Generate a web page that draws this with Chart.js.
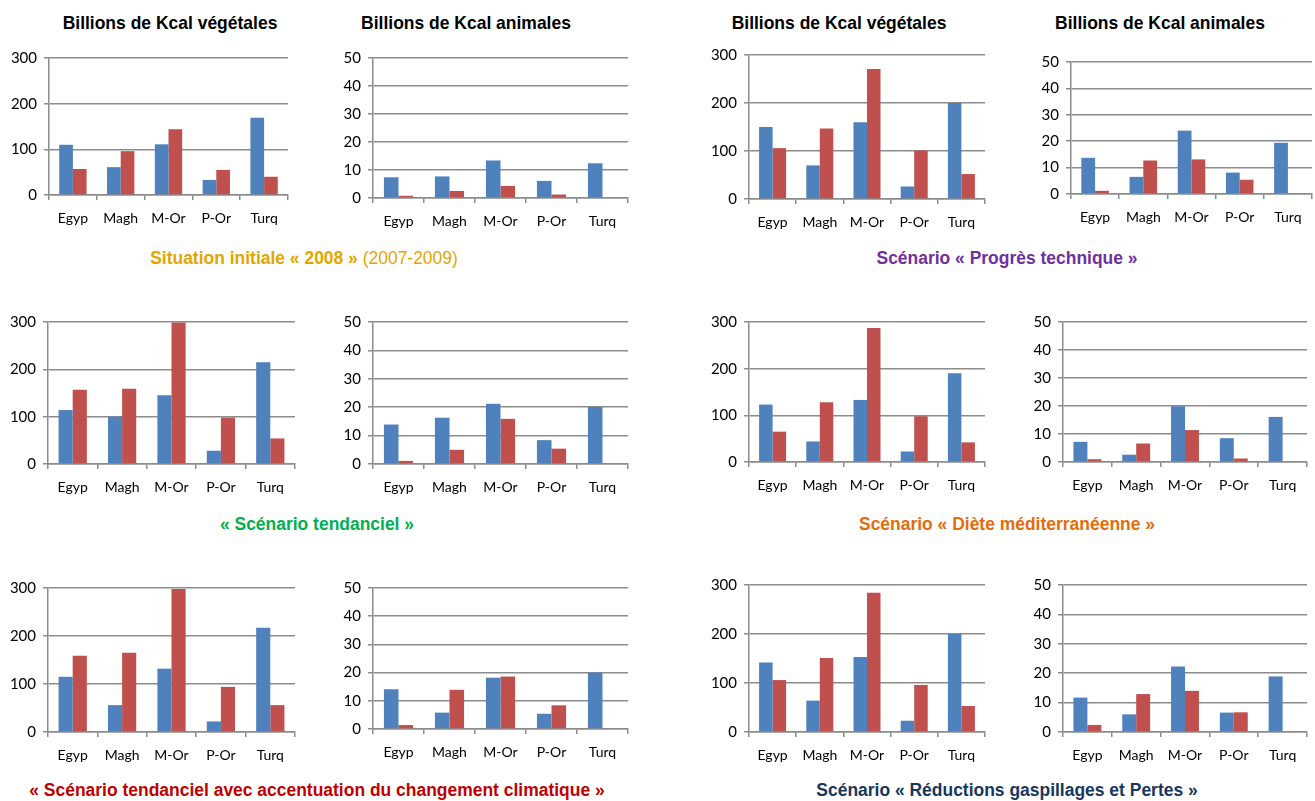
<!DOCTYPE html>
<html>
<head>
<meta charset="utf-8">
<script src="https://cdn.jsdelivr.net/npm/chart.js@4.4.1/dist/chart.umd.min.js"></script>
<style>
  html, body { margin: 0; padding: 0; background: #fff; }
  #page { position: relative; width: 1315px; height: 801px; overflow: hidden; }
  .box { position: absolute; }
  .txt { position: absolute; white-space: nowrap;
         font-family: "Liberation Sans Narrow", "Arial Narrow", "Liberation Sans", sans-serif;
         font-weight: bold; }
  .title { font-size: 19px; color: #000; transform: translateX(-50%) scaleX(0.92); }
  .cap { font-size: 18px; transform: translateX(-50%) scaleX(0.97); }
  .light { font-weight: normal; }
</style>
</head>
<body>
<div id="page"></div>
<script>
// categories and tick labels
const categories = ['Egyp', 'Magh', 'M-Or', 'P-Or', 'Turq'];
const vegTicks = [0, 100, 200, 300];
const animTicks = [0, 10, 20, 30, 40, 50];

// Situation initiale 2008
const vegInitialBlue = [110, 61, 111, 33, 169];
const vegInitialRed = [57, 96, 144, 55, 40];
const animInitialBlue = [7.4, 7.7, 13.4, 6.1, 12.4];
const animInitialRed = [0.8, 2.5, 4.3, 1.25, 0];

// Progrès technique
const vegProgresBlue = [150, 70, 160, 26, 200];
const vegProgresRed = [106, 147, 271, 101, 52];
const animProgresBlue = [13.7, 6.5, 24, 8.1, 19.4];
const animProgresRed = [1.2, 12.7, 13.1, 5.4, 0];

// Scénario tendanciel
const vegTendBlue = [114, 100, 145, 28, 215];
const vegTendRed = [157, 159, 299, 98, 54];
const animTendBlue = [13.9, 16.3, 21.2, 8.4, 20.1];
const animTendRed = [1.1, 5, 15.9, 5.4, 0];

// Diète méditerranéenne
const vegDieteBlue = [123, 44, 133, 22.5, 190];
const vegDieteRed = [65, 128, 287, 98, 42];
const animDieteBlue = [7.2, 2.6, 19.9, 8.5, 16.1];
const animDieteRed = [1.0, 6.6, 11.4, 1.25, 0];

// Tendanciel + changement climatique
const vegClimatBlue = [115, 56, 132, 22, 217];
const vegClimatRed = [159, 165, 298, 94, 56];
const animClimatBlue = [14.1, 5.8, 18.2, 5.4, 20.0];
const animClimatRed = [1.4, 13.9, 18.6, 8.4, 0];

// Réductions gaspillages et pertes
const vegReducBlue = [142, 64, 153, 23, 200];
const vegReducRed = [106, 151, 284, 96, 53];
const animReducBlue = [11.7, 6.0, 22.3, 6.6, 18.9];
const animReducRed = [2.4, 12.9, 14.0, 6.7, 0];

const BLUE = '#4F81BD';
const RED = '#C0504D';
const GRID = '#8c8c8c';
const YW = 46;      // y axis width
const XH = 34;      // x axis height
const PADT = 10;

// plot frames: axis x, right x, top y (max), zero y
const panels = [
  { ax: 49,   right: 288,  top: 52,  zero: 195, ticks: vegTicks,  blue: vegInitialBlue,  red: vegInitialRed },
  { ax: 373,  right: 628,  top: 52,  zero: 198, ticks: animTicks, blue: animInitialBlue, red: animInitialRed },
  { ax: 749,  right: 985,  top: 49,  zero: 199, ticks: vegTicks,  blue: vegProgresBlue,  red: vegProgresRed },
  { ax: 1071, right: 1312, top: 56,  zero: 194, ticks: animTicks, blue: animProgresBlue, red: animProgresRed },
  { ax: 48,   right: 295,  top: 316, zero: 464, ticks: vegTicks,  blue: vegTendBlue,     red: vegTendRed },
  { ax: 373,  right: 628,  top: 316, zero: 464, ticks: animTicks, blue: animTendBlue,    red: animTendRed },
  { ax: 749,  right: 985,  top: 316, zero: 462, ticks: vegTicks,  blue: vegDieteBlue,    red: vegDieteRed },
  { ax: 1063, right: 1307, top: 316, zero: 462, ticks: animTicks, blue: animDieteBlue,   red: animDieteRed },
  { ax: 48,   right: 295,  top: 582, zero: 732, ticks: vegTicks,  blue: vegClimatBlue,   red: vegClimatRed },
  { ax: 373,  right: 628,  top: 582, zero: 729, ticks: animTicks, blue: animClimatBlue,  red: animClimatRed },
  { ax: 749,  right: 985,  top: 579, zero: 732, ticks: vegTicks,  blue: vegReducBlue,    red: vegReducRed },
  { ax: 1063, right: 1307, top: 579, zero: 732, ticks: animTicks, blue: animReducBlue,   red: animReducRed }
];

const texts = [
  { x: 170,  y: 12, cls: 'title', html: 'Billions de Kcal végétales' },
  { x: 466,  y: 12, cls: 'title', html: 'Billions de Kcal animales' },
  { x: 839,  y: 12, cls: 'title', html: 'Billions de Kcal végétales' },
  { x: 1160, y: 12, cls: 'title', html: 'Billions de Kcal animales' },
  { x: 304,  y: 248, cls: 'cap', color: '#E3A600', html: 'Situation initiale « 2008 »<span class="light"> (2007-2009)</span>' },
  { x: 1007, y: 248, cls: 'cap', color: '#7030A0', html: 'Scénario « Progrès technique »' },
  { x: 317,  y: 514, cls: 'cap', color: '#00B050', html: '« Scénario tendanciel »' },
  { x: 1007, y: 514, cls: 'cap', color: '#E46C0A', html: 'Scénario « Diète méditerranéenne »' },
  { x: 317,  y: 780, cls: 'cap', color: '#C00000', html: '« Scénario tendanciel avec accentuation du changement climatique »' },
  { x: 1007, y: 780, cls: 'cap', color: '#17375E', html: 'Scénario « Réductions gaspillages et Pertes »' }
];

const page = document.getElementById('page');

texts.forEach(t => {
  const d = document.createElement('div');
  d.className = 'txt ' + t.cls;
  d.style.left = t.x + 'px';
  d.style.top = t.y + 'px';
  if (t.color) d.style.color = t.color;
  d.innerHTML = t.html;
  page.appendChild(d);
});

panels.forEach(p => {
  const w = (p.right - p.ax) + YW + 4;
  const h = PADT + (p.zero - p.top) + XH;
  const box = document.createElement('div');
  box.className = 'box';
  box.style.left = (p.ax - YW) + 'px';
  box.style.top = (p.top - PADT) + 'px';
  box.style.width = w + 'px';
  box.style.height = h + 'px';
  const cv = document.createElement('canvas');
  box.appendChild(cv);
  page.appendChild(box);

  const maxV = p.ticks[p.ticks.length - 1];
  const stepV = p.ticks[1] - p.ticks[0];

  new Chart(cv.getContext('2d'), {
    type: 'bar',
    data: {
      labels: categories,
      datasets: [
        { data: p.blue, backgroundColor: BLUE, borderWidth: 0 },
        { data: p.red, backgroundColor: RED, borderWidth: 0 }
      ]
    },
    options: {
      responsive: true,
      maintainAspectRatio: false,
      animation: false,
      datasets: { bar: { categoryPercentage: 0.572, barPercentage: 1 } },
      layout: { padding: { top: PADT, right: 4, left: 0, bottom: 0 } },
      plugins: { legend: { display: false }, tooltip: { enabled: false } },
      scales: {
        x: {
          offset: true,
          grid: { offset: true, drawOnChartArea: false, drawTicks: true, tickLength: 5, color: GRID, lineWidth: 1.5 },
          border: { display: true, color: GRID, width: 1.5 },
          ticks: { color: '#000', padding: 10, font: { family: 'Lato', size: 14 } },
          afterFit: s => { s.height = XH; }
        },
        y: {
          min: 0,
          max: maxV,
          grid: { color: GRID, lineWidth: 1.5, drawTicks: true, tickLength: 5 },
          border: { display: true, color: GRID, width: 1.5 },
          ticks: { stepSize: stepV, color: '#000', padding: 7, font: { family: 'Lato', size: 15 } },
          afterFit: s => { s.width = YW; }
        }
      }
    }
  });
});
</script>
</body>
</html>
